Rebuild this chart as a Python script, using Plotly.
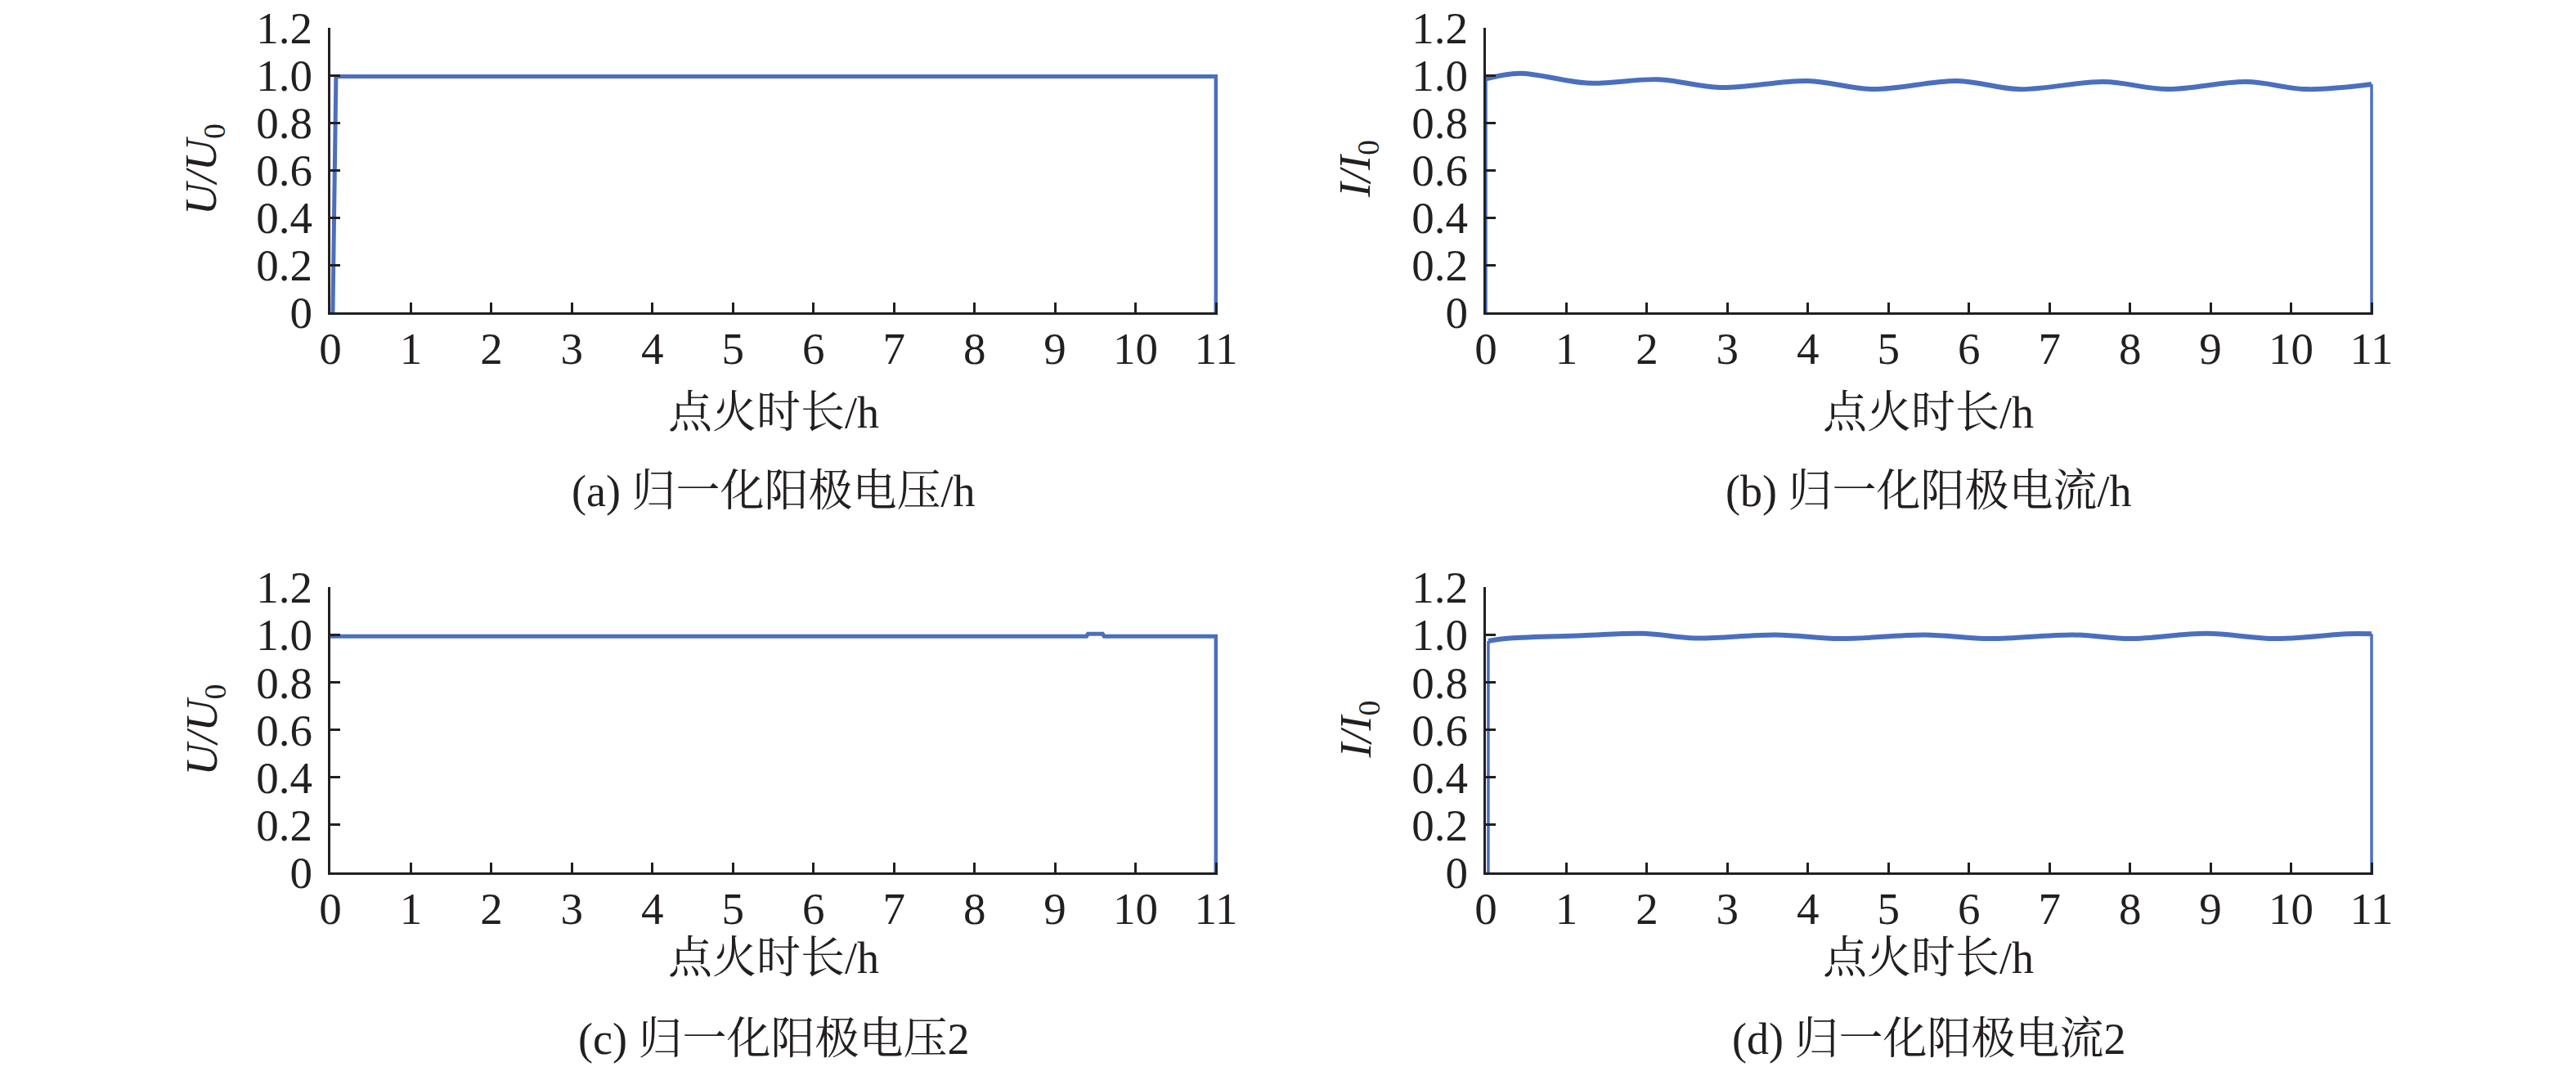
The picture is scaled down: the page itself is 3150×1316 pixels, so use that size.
import plotly.graph_objects as go

# ---------------- data ----------------
x_ticks = list(range(0, 12))
y_tick_vals = [0, 0.2, 0.4, 0.6, 0.8, 1.0, 1.2]
y_tick_text = ["0", "0.2", "0.4", "0.6", "0.8", "1.0", "1.2"]

# (a) normalized anode voltage
a_x = [0.03, 0.07, 11.0, 11.0]
a_y = [0.0, 0.995, 0.995, 0.0]

# (b) normalized anode current
b_x = [0.0, 0.0, 0.42, 1.26, 2.15, 2.91, 4.0, 4.8, 5.86, 6.62, 7.67, 8.47, 9.44, 10.2, 11.0, 11.0]
b_y = [0.0, 0.985, 1.008, 0.967, 0.982, 0.948, 0.976, 0.941, 0.976, 0.941, 0.972, 0.941, 0.972, 0.941, 0.962, 0.0]

# (c) normalized anode voltage 2
c_x = [0.0, 9.39, 9.41, 9.59, 9.61, 11.0, 11.0]
c_y = [0.993, 0.993, 1.003, 1.003, 0.993, 0.993, 0.0]

# (d) normalized anode current 2
d_x = [0.03, 0.03, 0.3, 1.2, 1.95, 2.6, 3.6, 4.4, 5.45, 6.25, 7.3, 8.0, 8.95, 9.8, 10.7, 11.0, 11.0]
d_y = [0.0, 0.973, 0.985, 0.996, 1.005, 0.985, 0.999, 0.983, 0.999, 0.983, 0.999, 0.983, 1.005, 0.983, 1.003, 1.003, 0.0]

x_title = "点火时长/h"
captions = ["(a) 归一化阳极电压/h", "(b) 归一化阳极电流/h", "(c) 归一化阳极电压2", "(d) 归一化阳极电流2"]
y_titles = ["<i>U/U</i><sub>0</sub>", "<i>I/I</i><sub>0</sub>", "<i>U/U</i><sub>0</sub>", "<i>I/I</i><sub>0</sub>"]

# ---------------- style ----------------
W, H = 3150, 1316
OFF = 3
LINE = "#4a6fbf"
AX = "#231f20"
FONT = "Liberation Serif, 'Times New Roman', 'Noto Serif CJK SC', 'Noto Sans CJK SC', serif"
TICK_SIZE = 55
TITLE_SIZE = 54


def px_x(s):
    return (s - OFF) / W


def px_y(s):
    return 1 - (s - OFF) / H


col_dom = [[px_x(399), px_x(1484)], [px_x(1812), px_x(2897)]]
row_dom = [[px_y(377), px_y(29)], [px_y(1062), px_y(713)]]

fig = go.Figure()

panels = [
    (a_x, a_y, False, 0, 0),
    (b_x, b_y, True, 0, 1),
    (c_x, c_y, False, 1, 0),
    (d_x, d_y, True, 1, 1),
]

for i, (xs, ys, smooth, r, c) in enumerate(panels):
    n = i + 1
    xa = "x" if n == 1 else f"x{n}"
    ya = "y" if n == 1 else f"y{n}"
    if smooth:
        fig.add_trace(go.Scatter(x=xs[:2], y=ys[:2], mode="lines", xaxis=xa, yaxis=ya,
                                 line=dict(color=LINE, width=3.5), showlegend=False, hoverinfo="skip"))
        fig.add_trace(go.Scatter(x=xs[1:-1], y=ys[1:-1], mode="lines", xaxis=xa, yaxis=ya,
                                 line=dict(color=LINE, width=6, shape="spline", smoothing=1.0),
                                 showlegend=False))
        fig.add_trace(go.Scatter(x=xs[-2:], y=ys[-2:], mode="lines", xaxis=xa, yaxis=ya,
                                 line=dict(color=LINE, width=3.5), showlegend=False, hoverinfo="skip"))
    else:
        fig.add_trace(go.Scatter(x=xs, y=ys, mode="lines", xaxis=xa, yaxis=ya,
                                 line=dict(color=LINE, width=5), showlegend=False))

    xkey = "xaxis" if n == 1 else f"xaxis{n}"
    ykey = "yaxis" if n == 1 else f"yaxis{n}"
    fig.update_layout(**{
        xkey: dict(domain=col_dom[c], anchor=ya, range=[0, 11.02], automargin=False,
                   tickmode="array", tickvals=x_ticks, ticktext=[str(v) for v in x_ticks],
                   ticks="inside", ticklen=12, tickwidth=3, tickcolor=AX,
                   showline=True, linecolor=AX, linewidth=3, showgrid=False, zeroline=False,
                   ticklabelstandoff=-6, ticklabeloverflow="allow",
                   tickfont=dict(family=FONT, size=TICK_SIZE, color=AX)),
        ykey: dict(domain=row_dom[r], anchor=xa, range=[0, 1.2], automargin=False,
                   tickmode="array", tickvals=y_tick_vals, ticktext=y_tick_text,
                   ticks="inside", ticklen=12, tickwidth=3, tickcolor=AX,
                   showline=True, linecolor=AX, linewidth=3, showgrid=False, zeroline=False,
                   ticklabelstandoff=8, ticklabeloverflow="allow",
                   tickfont=dict(family=FONT, size=TICK_SIZE, color=AX)),
    })

col_center = [px_x(940.5), px_x(2353)]
y_title_x = [px_x(245), px_x(1656)]
row_center = [px_y(202), px_y(887.5)]
xtitle_y = [px_y(500), px_y(1167)]
caption_y = [px_y(596), px_y(1266)]

annotations = []
for i in range(4):
    r, c = divmod(i, 2)
    annotations.append(dict(text=x_title, x=col_center[c], y=xtitle_y[r], xref="paper", yref="paper",
                            xanchor="center", yanchor="middle", showarrow=False,
                            font=dict(family=FONT, size=TITLE_SIZE, color=AX)))
    annotations.append(dict(text=captions[i], x=col_center[c], y=caption_y[r], xref="paper", yref="paper",
                            xanchor="center", yanchor="middle", showarrow=False,
                            font=dict(family=FONT, size=TITLE_SIZE, color=AX)))
    annotations.append(dict(text=y_titles[i], x=y_title_x[c], y=row_center[r], xref="paper", yref="paper",
                            xanchor="center", yanchor="middle", showarrow=False, textangle=-90,
                            font=dict(family=FONT, size=TITLE_SIZE, color=AX)))

fig.update_layout(width=W, height=H, margin=dict(l=0, r=0, t=0, b=0, autoexpand=False),
                  paper_bgcolor="white", plot_bgcolor="white",
                  annotations=annotations, showlegend=False)

fig.write_html("out.html")
